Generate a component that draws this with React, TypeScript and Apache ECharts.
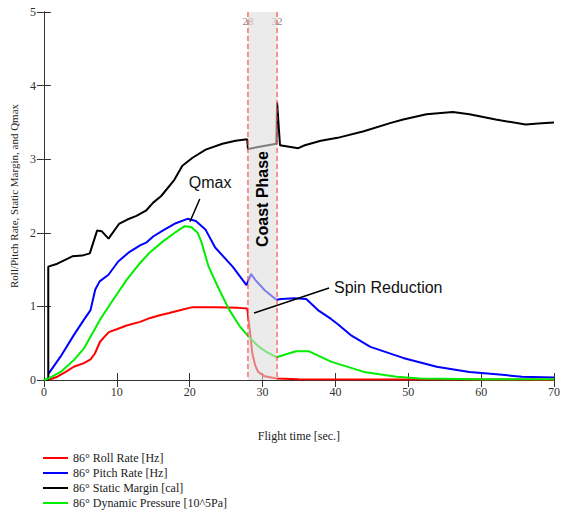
import React, { useEffect, useRef } from "react";
import * as echarts from "echarts";

const rollRate: number[][] = [
  [0, 0], [0.6, 0], [1.85, 0.045], [3, 0.11], [4.1, 0.18], [5.5, 0.23], [6.4, 0.28], [7, 0.36],
  [7.7, 0.52], [8.9, 0.65], [10, 0.69], [11.35, 0.74], [13.2, 0.79], [14.5, 0.84], [15.9, 0.88],
  [17.2, 0.91], [18.8, 0.95], [20.4, 0.99], [23.5, 0.99], [26.7, 0.98], [27.9, 0.97], [28.3, 0.64],
  [28.6, 0.36], [29, 0.2], [29.4, 0.11], [30.3, 0.05], [31.9, 0.02], [35, 0.01], [70, 0.005],
];

const pitchRate: number[][] = [
  [0.6, 0.08], [2.3, 0.32], [4.1, 0.61], [5.5, 0.82], [6.4, 0.95], [7.05, 1.23], [7.65, 1.34],
  [8.86, 1.43], [10.2, 1.61], [11.6, 1.73], [13.2, 1.83], [14.1, 1.87], [15, 1.95], [16.3, 2.03],
  [18.1, 2.13], [19.7, 2.19], [20.85, 2.16], [22.2, 2.04], [23.5, 1.8], [25.9, 1.54], [27.8, 1.29],
  [28.45, 1.44], [29, 1.36], [30.3, 1.22], [31.9, 1.09], [32.6, 1.1], [34.4, 1.11], [36, 1.1],
  [37.6, 0.95], [39.4, 0.83], [40.3, 0.76], [42.1, 0.61], [44.8, 0.45], [49.3, 0.3], [53.9, 0.18],
  [58.4, 0.11], [62.9, 0.07], [65.6, 0.045], [70, 0.035],
];

const staticMargin: number[][] = [
  [0, 0], [0.6, 0], [0.6, 1.54], [1.85, 1.58], [3.9, 1.68], [5.25, 1.69], [6.3, 1.72], [7.3, 2.03],
  [7.95, 2.02], [8.87, 1.92], [10.3, 2.12], [11.45, 2.18], [12.7, 2.23], [14, 2.3], [15, 2.41],
  [16.1, 2.5], [17.9, 2.72], [19, 2.91], [20.4, 3.02], [22.2, 3.13], [24.5, 3.21], [26.3, 3.25],
  [27.9, 3.27], [28, 3.14], [31.9, 3.21], [32, 3.77], [32.4, 3.19], [34.9, 3.15], [35.8, 3.19],
  [38, 3.25], [40.3, 3.29], [43.9, 3.38], [47.5, 3.49], [49.3, 3.54], [52.5, 3.61], [56.1, 3.64],
  [58.4, 3.61], [62, 3.54], [66.1, 3.47], [68.3, 3.49], [70, 3.5],
];

const dynamicPressure: number[][] = [
  [0, 0], [0.6, 0.02], [2.3, 0.11], [4.1, 0.27], [5.5, 0.43], [6.8, 0.66], [7.7, 0.82], [9.5, 1.09],
  [11.35, 1.36], [13.2, 1.59], [14.5, 1.73], [16.3, 1.88], [18.1, 2.01], [19.3, 2.09], [20.2, 2.08],
  [21.1, 2.0], [21.6, 1.88], [22.6, 1.54], [24, 1.24], [25.4, 0.96], [26.8, 0.74], [28, 0.6],
  [29.4, 0.46], [30.4, 0.39], [31.9, 0.31], [34.6, 0.39], [36.4, 0.39], [39.4, 0.25], [43.9, 0.11],
  [48.4, 0.045], [51.6, 0.02], [60, 0.01], [70, 0.01],
];

const seriesNames = [
  "86° Roll Rate [Hz]",
  "86° Pitch Rate [Hz]",
  "86° Static Margin [cal]",
  "86° Dynamic Pressure [10^5Pa]",
];
const seriesColors = ["#ff0000", "#0000ff", "#000000", "#00ee00"];

const yMin = 0;
const yMax = 5;
const coastStart = 28;
const coastEnd = 32;
const coastBounds = [coastStart, coastEnd];

const qmaxLine = [[20.04, 2.15], [21.39, 2.46]];
const qmaxLabel = [22.81, 2.69];
const spinLine = [[28.84, 0.91], [39.13, 1.25]];
const spinLabel = [47.25, 1.26];

const SERIF = "'Liberation Serif', 'Times New Roman', Times, serif";
const SANS = "'Liberation Sans', Arial, Helvetica, sans-serif";

export default function App() {
  const ref = useRef<HTMLDivElement>(null);

  useEffect(() => {
    if (!ref.current) return;
    const chart = echarts.init(ref.current, undefined, { renderer: "svg" });
    const axisLineStyle = { color: "#333", width: 1 };
    const dataSets = [rollRate, pitchRate, staticMargin, dynamicPressure];

    const option: any = {
      animation: false,
      textStyle: { fontFamily: SERIF },
      grid: { left: 42, right: 4, top: 12, bottom: 132, containLabel: false },
      legend: {
        data: seriesNames,
        orient: "vertical",
        left: 43,
        top: 451,
        padding: 0,
        itemGap: 1,
        itemWidth: 25,
        itemHeight: 2,
        icon: "rect",
        textStyle: { fontFamily: SERIF, fontSize: 12, color: "#222", lineHeight: 14 },
      },
      xAxis: [
        {
          type: "value",
          position: "bottom",
          min: 0,
          max: 70,
          interval: 10,
          axisLine: { show: true, lineStyle: axisLineStyle },
          axisTick: { show: true, inside: true, length: 7, lineStyle: axisLineStyle },
          axisLabel: { color: "#333", fontFamily: SERIF, fontSize: 12, margin: 6 },
          splitLine: { show: false },
          name: "Flight time [sec.]",
          nameLocation: "middle",
          nameGap: 50,
          nameTextStyle: { fontFamily: SERIF, fontSize: 12, color: "#222" },
        },
        {
          type: "value",
          position: "top",
          min: 0,
          max: 70,
          interval: 10,
          axisLine: { show: true, lineStyle: axisLineStyle },
          axisTick: { show: true, inside: true, length: 7, lineStyle: axisLineStyle },
          axisLabel: { show: false },
          splitLine: { show: false },
        },
        {
          type: "value",
          position: "top",
          min: 0,
          max: 70,
          interval: 4,
          axisLine: { show: false },
          axisTick: { show: false },
          axisLabel: {
            show: true,
            inside: true,
            margin: 3,
            color: "#888",
            fontFamily: SERIF,
            fontSize: 11,
            formatter: (v: number) => (v === coastStart || v === coastEnd ? String(v) : ""),
          },
          splitLine: { show: false },
        },
      ],
      yAxis: [
        {
          type: "value",
          position: "left",
          min: yMin,
          max: yMax,
          interval: 1,
          axisLine: { show: true, lineStyle: axisLineStyle },
          axisTick: { show: true, inside: true, length: 7, lineStyle: axisLineStyle },
          axisLabel: { color: "#333", fontFamily: SERIF, fontSize: 12, margin: 8 },
          splitLine: { show: false },
          name: "Roll/Pitch Rate, Static Margin, and Qmax",
          nameLocation: "middle",
          nameRotate: 90,
          nameGap: 24,
          nameTextStyle: { fontFamily: SERIF, fontSize: 11, color: "#222" },
        },
        {
          type: "value",
          position: "right",
          min: yMin,
          max: yMax,
          interval: 1,
          axisLine: { show: true, lineStyle: axisLineStyle },
          axisTick: { show: true, inside: true, length: 7, lineStyle: axisLineStyle },
          axisLabel: { show: false },
          splitLine: { show: false },
        },
      ],
      series: [
        ...dataSets.map((d, i) => ({
          name: seriesNames[i],
          type: "line",
          data: d,
          xAxisIndex: 0,
          yAxisIndex: 0,
          symbol: "none",
          smooth: false,
          color: seriesColors[i],
          lineStyle: { color: seriesColors[i], width: 2 },
          z: 2,
        })),
        {
          name: "coastShade",
          type: "custom",
          xAxisIndex: 0,
          yAxisIndex: 0,
          z: 5,
          silent: true,
          data: [coastBounds],
          encode: { x: [0, 1] },
          renderItem: (params: any, api: any) => {
            const p0 = api.coord([api.value(0), yMax]);
            const p1 = api.coord([api.value(1), yMin]);
            return {
              type: "rect",
              shape: { x: p0[0], y: p0[1], width: p1[0] - p0[0], height: p1[1] - p0[1] },
              style: { fill: "rgba(220,220,220,0.57)", stroke: "none", lineWidth: 0 },
            };
          },
        },
        {
          name: "coastDash",
          type: "custom",
          xAxisIndex: 0,
          yAxisIndex: 0,
          z: 12,
          silent: true,
          data: coastBounds.map((v) => [v]),
          encode: { x: 0 },
          renderItem: (params: any, api: any) => {
            const top = api.coord([api.value(0), yMax]);
            const bottom = api.coord([api.value(0), yMin]);
            return {
              type: "line",
              shape: { x1: top[0], y1: top[1], x2: bottom[0], y2: bottom[1] },
              style: { stroke: "#ff2a2a", lineWidth: 1, lineDash: [5, 3], fill: "none" },
            };
          },
        },
        {
          name: "coastLabel",
          type: "line",
          data: [],
          xAxisIndex: 0,
          yAxisIndex: 0,
          z: 10,
          silent: true,
          markArea: {
            silent: true,
            z: 10,
            itemStyle: { color: "rgba(0,0,0,0)" },
            label: {
              show: true,
              position: "inside",
              rotate: 90,
              formatter: "Coast Phase",
              fontFamily: SANS,
              fontWeight: "bold",
              fontSize: 16,
              color: "#000",
              offset: [-3, 0],
            },
            data: [[{ xAxis: coastStart }, { xAxis: coastEnd }]],
          },
        },
        {
          name: "annot",
          type: "line",
          data: [],
          xAxisIndex: 0,
          yAxisIndex: 0,
          z: 10,
          silent: true,
          markLine: {
            silent: true,
            z: 10,
            symbol: ["none", "none"],
            label: { show: false },
            lineStyle: { color: "#000", type: "solid", width: 1.5 },
            data: [
              [{ coord: qmaxLine[0] }, { coord: qmaxLine[1] }],
              [{ coord: spinLine[0] }, { coord: spinLine[1] }],
            ],
          },
          markPoint: {
            silent: true,
            z: 10,
            symbol: "rect",
            symbolSize: 1,
            itemStyle: { color: "rgba(0,0,0,0)" },
            label: {
              show: true,
              position: "inside",
              fontFamily: SANS,
              fontSize: 16,
              color: "#111",
              formatter: (p: any) => p.name,
            },
            data: [
              { name: "Qmax", coord: qmaxLabel },
              { name: "Spin Reduction", coord: spinLabel },
            ],
          },
        },
      ],
    };

    chart.setOption(option);
    return () => chart.dispose();
  }, []);

  return (
    <div
      ref={ref}
      style={{ position: "absolute", left: 0, top: 0, width: 563, height: 512, background: "#fff" }}
    />
  );
}
